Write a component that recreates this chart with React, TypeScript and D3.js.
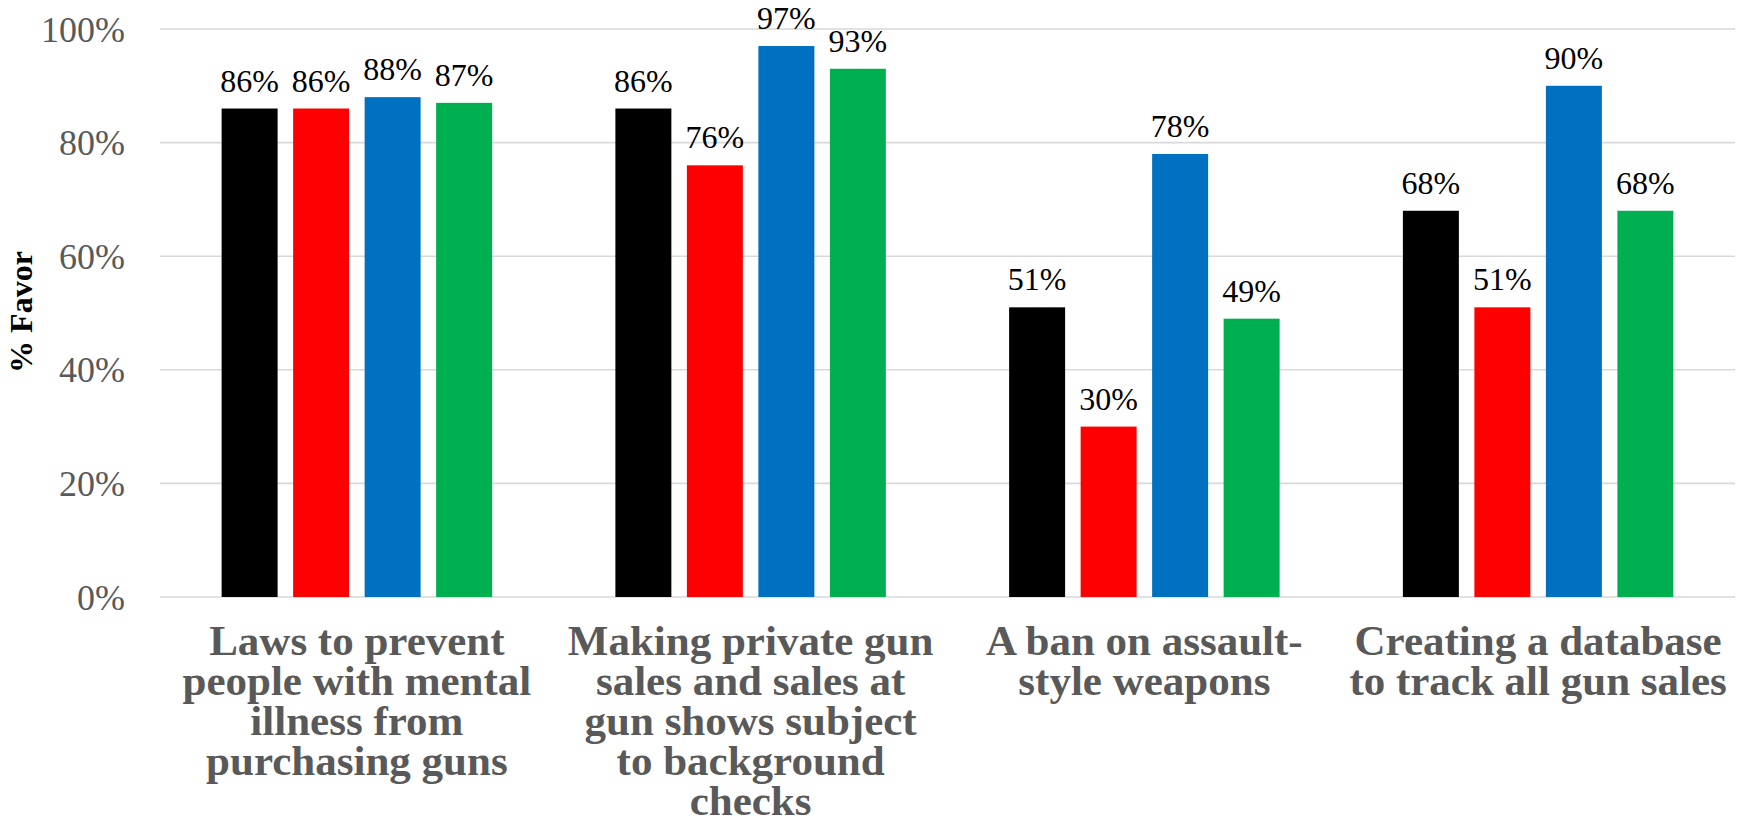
import React from "react";
import * as d3 from "d3";

const categories = [
  "Laws to prevent people with mental illness from purchasing guns",
  "Making private gun sales and sales at gun shows subject to background checks",
  "A ban on assault-style weapons",
  "Creating a database to track all gun sales",
];
const categoryLines = [
  ["Laws to prevent", "people with mental", "illness from", "purchasing guns"],
  ["Making private gun", "sales and sales at", "gun shows subject", "to background", "checks"],
  ["A ban on assault-", "style weapons"],
  ["Creating a database", "to track all gun sales"],
];
const seriesNames = ["Total", "Republicans", "Democrats", "Independents"];
const seriesColors = ["#000000", "#FF0000", "#0070C0", "#00B050"];
const totalValues = [86, 86, 51, 68];
const republicanValues = [86, 76, 30, 51];
const democratValues = [88, 97, 78, 90];
const independentValues = [87, 93, 49, 68];
const yTicks = [0, 20, 40, 60, 80, 100];
const yTitle = "% Favor";

const seriesValues = [totalValues, republicanValues, democratValues, independentValues];

export default function App() {
  const W = 1746;
  const H = 829;
  const left = 160;
  const right = 1735;
  const top = 29;
  const bottom = 597;

  const x0 = d3.scaleBand<string>().domain(categories).range([left, right]).padding(0);
  const x1 = d3
    .scaleBand<string>()
    .domain(seriesNames)
    .range([0, x0.bandwidth()])
    .paddingInner(0.217)
    .paddingOuter(0.862);
  const y = d3.scaleLinear().domain([0, 100]).range([bottom, top]);

  const serif = "'Liberation Serif', 'Times New Roman', serif";

  return (
    <svg
      width={W}
      height={H}
      style={{ position: "absolute", left: 0, top: 0, background: "#fff" }}
    >
      {yTicks.map((t) => (
        <g key={t}>
          <line x1={left} x2={right} y1={y(t)} y2={y(t)} stroke="#d9d9d9" strokeWidth={1.6} />
          <text
            x={125}
            y={y(t)}
            dy="0.35em"
            textAnchor="end"
            fontFamily={serif}
            fontSize={36}
            fill="#595959"
          >
            {t}%
          </text>
        </g>
      ))}
      {categories.map((c, ci) => (
        <g key={c} transform={`translate(${x0(c)},0)`}>
          {seriesNames.map((s, si) => {
            const v = seriesValues[si][ci];
            const bx = x1(s) as number;
            const bw = x1.bandwidth();
            return (
              <g key={s}>
                <rect x={bx} y={y(v)} width={bw} height={y(0) - y(v)} fill={seriesColors[si]} />
                <text
                  x={bx + bw / 2}
                  y={y(v) - 17}
                  textAnchor="middle"
                  fontFamily={serif}
                  fontSize={32}
                  fill="#000"
                >
                  {v}%
                </text>
              </g>
            );
          })}
          {categoryLines[ci].map((line, li) => (
            <text
              key={li}
              x={x0.bandwidth() / 2}
              y={655 + li * 40}
              textAnchor="middle"
              fontFamily={serif}
              fontWeight="bold"
              fontSize={43}
              fill="#595959"
            >
              {line}
            </text>
          ))}
        </g>
      ))}
      <text
        transform={`translate(32,312) rotate(-90)`}
        textAnchor="middle"
        fontFamily={serif}
        fontWeight="bold"
        fontSize={32}
        fill="#000"
      >
        {yTitle}
      </text>
    </svg>
  );
}
